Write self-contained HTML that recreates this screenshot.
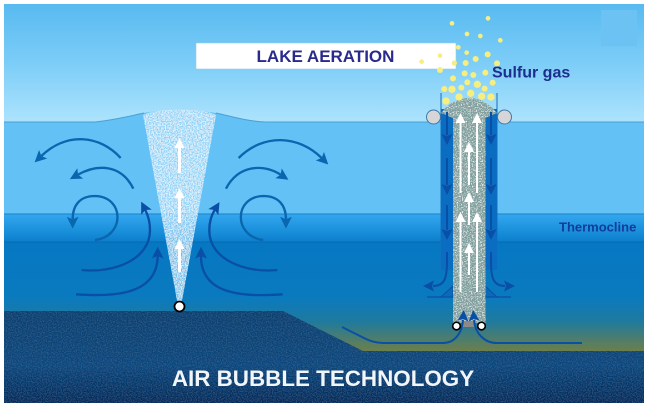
<!DOCTYPE html>
<html><head><meta charset="utf-8">
<style>html,body{margin:0;padding:0;background:#fff}svg{display:block}</style></head>
<body>
<svg width="648" height="406" viewBox="0 0 648 406" xmlns="http://www.w3.org/2000/svg" font-family="'Liberation Sans',sans-serif">
<defs>
<linearGradient id="sky" x1="0" y1="0" x2="0" y2="1"><stop offset="0" stop-color="#58baf0"/><stop offset="0.5" stop-color="#7ccdf7"/><stop offset="1" stop-color="#ade3fd"/></linearGradient>
<linearGradient id="therm" x1="0" y1="0" x2="0" y2="1"><stop offset="0" stop-color="#33a8f0"/><stop offset="1" stop-color="#0b7fcc"/></linearGradient>
<linearGradient id="deep" x1="0" y1="0" x2="0" y2="1"><stop offset="0" stop-color="#0677c3"/><stop offset="0.5" stop-color="#0a7abf"/><stop offset="0.72" stop-color="#1f7a9e"/><stop offset="1" stop-color="#6f7f48"/></linearGradient>
<linearGradient id="bed" x1="0" y1="0" x2="0" y2="1"><stop offset="0" stop-color="#0c4070"/><stop offset="0.6" stop-color="#08467c"/><stop offset="1" stop-color="#022a5a"/></linearGradient>
<filter id="speck" x="0" y="0" width="1" height="1">
<feTurbulence type="fractalNoise" baseFrequency="0.75" numOctaves="2" seed="4" result="n"/>
<feColorMatrix in="n" type="matrix" values="0 0 0 0 1  0 0 0 0 1  0 0 0 0 1  3.5 0 0 0 -1.25" result="w"/>
<feComposite in="w" in2="SourceGraphic" operator="in" result="c"/>
<feMerge><feMergeNode in="SourceGraphic"/><feMergeNode in="c"/></feMerge>
</filter>
<filter id="tubeN" x="0" y="0" width="1" height="1">
<feTurbulence type="fractalNoise" baseFrequency="0.8" numOctaves="2" seed="11" result="n"/>
<feColorMatrix in="n" type="matrix" values="0 0 0 0 1  0 0 0 0 1  0 0 0 0 1  3 0 0 0 -1.45" result="w"/>
<feComposite in="w" in2="SourceGraphic" operator="in" result="c"/>
<feMerge><feMergeNode in="SourceGraphic"/><feMergeNode in="c"/></feMerge>
</filter>
<filter id="bedn" x="0" y="0" width="1" height="1">
<feTurbulence type="fractalNoise" baseFrequency="0.8" numOctaves="2" seed="8" result="n"/>
<feColorMatrix in="n" type="matrix" values="0 0 0 0 0.15  0 0 0 0 0.35  0 0 0 0 0.55  0.5 0 0 0 -0.2" result="w"/>
<feComposite in="w" in2="SourceGraphic" operator="in" result="c"/>
<feMerge><feMergeNode in="SourceGraphic"/><feMergeNode in="c"/></feMerge>
</filter>
<marker id="ma" markerUnits="userSpaceOnUse" markerWidth="38" markerHeight="38" refX="6" refY="14" orient="auto" viewBox="0 0 30 28"><path d="M0,0 L28,14 L0,28 L6,14Z" fill="#0a66ae"/></marker>
<marker id="mb" markerUnits="userSpaceOnUse" markerWidth="38" markerHeight="38" refX="6" refY="14" orient="auto" viewBox="0 0 30 28"><path d="M0,0 L28,14 L0,28 L6,14Z" fill="#0a4fa6"/></marker>
<marker id="mw" markerUnits="userSpaceOnUse" markerWidth="10" markerHeight="10" refX="1" refY="5" orient="auto" viewBox="0 0 10 10"><path d="M0,0 L10,5 L0,10Z" fill="#fff"/></marker>
<marker id="md" markerUnits="userSpaceOnUse" markerWidth="11" markerHeight="11" refX="1" refY="5.5" orient="auto" viewBox="0 0 11 11"><path d="M0,0 L11,5.5 L0,11 L2,5.5Z" fill="#0a4fa6"/></marker>
</defs>

<rect width="648" height="406" fill="#fff"/>
<rect x="4" y="4" width="640" height="118" fill="url(#sky)"/>
<rect x="601" y="10" width="36" height="36" fill="#6cc3f3"/>
<rect x="4" y="122" width="640" height="92" fill="#63c1f5"/>
<rect x="4" y="214" width="640" height="28" fill="url(#therm)"/>
<rect x="4" y="242" width="640" height="110" fill="url(#deep)"/>
<path d="M4,311 H283 L363,351 H644 V403 H4Z" fill="url(#bed)" filter="url(#bedn)"/>
<path d="M95,122 C115,120 130,116 144,113 C155,110 200,110 216,113 C230,116 245,121 265,122 Z" fill="#63c1f5"/>
<path d="M4,122 H95 C115,120 130,116 144,113 M216,113 C230,116 245,121 265,122 H644" fill="none" stroke="#4a9fd2" stroke-width="1"/>
<path d="M4,214 H644" stroke="#1c7fc6" stroke-width="1"/>
<path d="M4,242 H644" stroke="#0a68ae" stroke-width="1"/>

<!-- cone -->
<path d="M143,115 C155,108 205,108 216,115 L181,306 L178,306Z" fill="#9ad6f6" fill-opacity=".72" filter="url(#speck)"/>

<!-- left arrows -->
<g transform="translate(0,90) scale(.3333)" fill="none" stroke-width="7" stroke-linecap="butt">
<g stroke="#0a66ae">
<path d="M362,204 C300,135 200,125 124,198" marker-end="url(#ma)"/>
<path d="M400,296 C365,225 295,220 234,254" marker-end="url(#ma)"/>
<path d="M285,450 C375,440 375,320 285,318 C240,318 218,345 218,388" marker-end="url(#ma)"/>
<path d="M716,204 C790,130 895,135 965,204" marker-end="url(#ma)"/>
<path d="M678,296 C715,225 790,220 842,254" marker-end="url(#ma)"/>
<path d="M790,450 C700,440 700,320 790,318 C835,318 858,345 858,388" marker-end="url(#ma)"/>
</g>
<g stroke="#0a4fa6">
<path d="M245,540 C340,550 450,510 450,420 C450,395 445,378 436,360" marker-end="url(#mb)"/>
<path d="M228,613 C330,620 472,620 473,498" marker-end="url(#mb)"/>
<path d="M832,540 C740,550 626,510 628,420 C628,395 633,378 644,360" marker-end="url(#mb)"/>
<path d="M848,613 C740,620 603,620 603,498" marker-end="url(#mb)"/>
</g>
</g>

<!-- cone arrows -->
<g stroke="#fff" stroke-width="3" fill="none">
<path d="M179.500,173 V147" marker-end="url(#mw)"/>
<path d="M179.500,223 V197" marker-end="url(#mw)"/>
<path d="M179.500,272 V248" marker-end="url(#mw)"/>
</g>
<circle cx="179.500" cy="306.500" r="5" fill="#fff" stroke="#000" stroke-width="1.800"/>

<!-- tube right -->
<path d="M441,93 V270 M497,93 V270" fill="none" stroke="#1670b8" stroke-width="1"/>
<rect x="441" y="109" width="56" height="161" fill="#0a6dc2"/>
<path d="M441,297 L453,286 V297Z M497,297 L485,286 V297Z" fill="#0a6cb8" stroke="#0a4fa6" stroke-width="1"/>
<path d="M427,297 H511" stroke="#0a4fa6" stroke-width="1.200"/>
<path d="M441,113 C448,104 458,98 469,98 C480,98 490,104 497,113 L485.500,118 V323 H453 V118Z" fill="#7d9e9c" filter="url(#tubeN)"/>
<rect x="463" y="321" width="12" height="6" fill="#8a8a88"/>

<!-- tube white arrows -->
<g stroke="#fff" stroke-width="2" fill="none">
<path d="M460.500,193 V122" marker-end="url(#mw)"/>
<path d="M477,193 V122" marker-end="url(#mw)"/>
<path d="M469,185 V151" marker-end="url(#mw)"/>
<path d="M460.500,292 V221" marker-end="url(#mw)"/>
<path d="M477,292 V221" marker-end="url(#mw)"/>
<path d="M469,225 V201" marker-end="url(#mw)"/>
<path d="M469,275 V252" marker-end="url(#mw)"/>
</g>

<!-- tube blue arrows -->
<g stroke="#0a4fa6" stroke-width="2" fill="none">
<path d="M447,112 V135" marker-end="url(#md)"/>
<path d="M447,158 V185" marker-end="url(#md)"/>
<path d="M491,112 V135" marker-end="url(#md)"/>
<path d="M491,158 V185" marker-end="url(#md)"/>
<path d="M447,205 V230" marker-end="url(#md)"/>
<path d="M491,205 V230" marker-end="url(#md)"/>
<path d="M447,252 V262 C447,279 444,286 433,286" marker-end="url(#md)"/>
<path d="M491,252 V262 C491,279 494,286 505,286" marker-end="url(#md)"/>
<path d="M342,327 L366,339 C372,342 378,343 385,343 H443 C455,343 462,333 463,320" marker-end="url(#md)"/>
<path d="M582,343 H497 C484,343 475,333 474,320" marker-end="url(#md)"/>
</g>
<circle cx="456.500" cy="326" r="3.800" fill="#fff" stroke="#000" stroke-width="1.600"/>
<circle cx="481.500" cy="326" r="3.800" fill="#fff" stroke="#000" stroke-width="1.600"/>

<circle cx="433.500" cy="117" r="7" fill="#d6d6d8" stroke="#3e78a8" stroke-width="1"/>
<circle cx="504.500" cy="117" r="7" fill="#d6d6d8" stroke="#3e78a8" stroke-width="1"/>

<!-- label box -->
<rect x="196" y="43" width="260" height="26" fill="#fff" stroke="#9ccbe6" stroke-width=".6"/>
<text x="325.500" y="62" font-size="17" font-weight="bold" fill="#2a2a8e" text-anchor="middle">LAKE AERATION</text>

<!-- gas bubbles -->
<g transform="translate(400,0) scale(.3333)" fill="#f7ee80" stroke="#f7ee80" stroke-width="2">
<circle cx="264" cy="55" r="6"/><circle cx="156" cy="70" r="6"/><circle cx="201" cy="102" r="6"/><circle cx="241" cy="108" r="6"/><circle cx="301" cy="121" r="6"/>
<circle cx="175" cy="142" r="6"/><circle cx="200" cy="158" r="6"/><circle cx="263" cy="163" r="8"/><circle cx="120" cy="167" r="6"/><circle cx="227" cy="177" r="8"/>
<circle cx="65" cy="185" r="6"/><circle cx="163" cy="189" r="7"/><circle cx="197" cy="189" r="8"/><circle cx="291" cy="190" r="8"/><circle cx="120" cy="210" r="8"/>
<circle cx="194" cy="220" r="8"/><circle cx="220" cy="225" r="8"/><circle cx="256" cy="218" r="8"/><circle cx="159" cy="235" r="8"/><circle cx="202" cy="247" r="8"/>
<circle cx="232" cy="253" r="10"/><circle cx="278" cy="248" r="8"/><circle cx="133" cy="267" r="8"/><circle cx="156" cy="268" r="10"/><circle cx="184" cy="263" r="8"/>
<circle cx="254" cy="266" r="8"/><circle cx="212" cy="280" r="10"/><circle cx="177" cy="291" r="10"/><circle cx="245" cy="289" r="10"/><circle cx="273" cy="291" r="10"/><circle cx="138" cy="303" r="10"/>
</g>

<text x="492" y="77.500" font-size="16" font-weight="bold" fill="#1d2f8e">Sulfur gas</text>
<text x="559" y="231.500" font-size="13" font-weight="bold" fill="#123c9c">Thermocline</text>
<text x="323" y="386" font-size="22.400" font-weight="bold" fill="#f2f6fa" text-anchor="middle">AIR BUBBLE TECHNOLOGY</text>
</svg>
</body></html>
